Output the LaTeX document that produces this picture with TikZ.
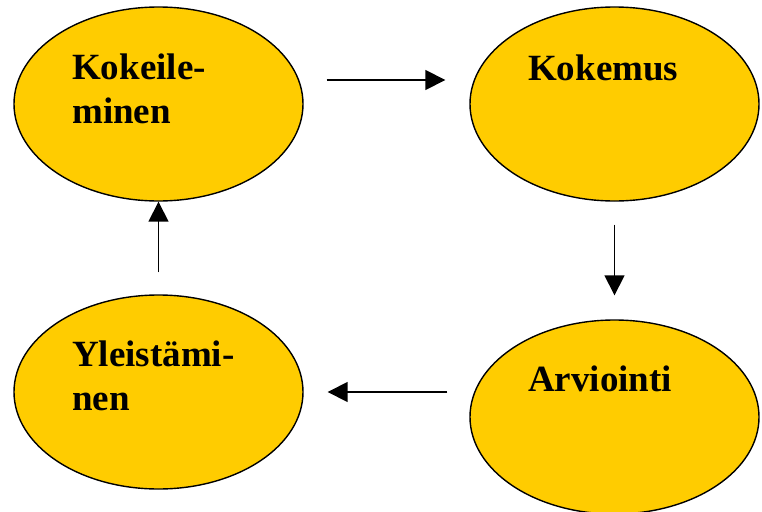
\documentclass[tikz,border=0pt]{standalone}
\usepackage{fontspec}
\setmainfont{Liberation Serif}
\usetikzlibrary{arrows.meta,shapes.geometric}
\definecolor{gold}{RGB}{255,204,0}

\begin{document}
\begin{tikzpicture}[x=1pt,y=-1pt,
    stage/.style={ellipse, draw, fill=gold, line width=1.4pt,
                  minimum width=289pt, minimum height=194pt, inner sep=0pt},
    word/.style={anchor=base west, align=left, inner sep=0pt,
                 font=\fontsize{37}{44}\selectfont\bfseries},
    arr/.style={-{Triangle[length=20pt,width=20pt]}, line width=1.6pt}]
    \useasboundingbox (0,0) rectangle (762,511);
    % the four stages
    \node [stage] (kok) at (158.5,104) {};
    \node [stage] (exp) at (614.5,104) {};
    \node [stage] (yle) at (158.5,392) {};
    \node [stage] (arv) at (614.5,417) {};
    % base of the last line
    \node [word] (kokT) at (72,123)  {Kokeile-\\minen};
    \node [word] (expT) at (528,80)  {Kokemus};
    \node [word] (yleT) at (72,410)  {Yleistämi-\\nen};
    \node [word] (arvT) at (528,391) {Arviointi};
    % the cycle
    \draw [arr, shorten <=23pt, shorten >=24pt]
          ([yshift=24pt]kok.east) -- ([yshift=24pt]exp.west);
    \draw [arr, shorten <=23pt, shorten >=24pt] (exp.south) -- (arv.north);
    \draw [arr, shorten <=22pt, shorten >=24pt] (arv.west |- yle.east) -- (yle.east);
    \draw [arr, shorten <=22pt] (yle.north) -- (kok.south);
\end{tikzpicture}
\end{document}
